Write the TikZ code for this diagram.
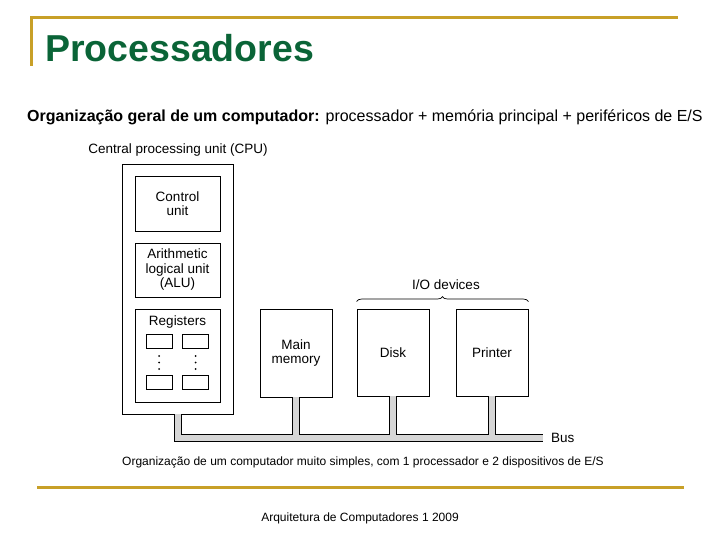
\documentclass[tikz,border=0pt]{standalone}
\usepackage{fontspec}
\setmainfont{Liberation Sans}
\usetikzlibrary{positioning,decorations.pathreplacing}
\definecolor{rulegold}{RGB}{200,160,40}
\definecolor{titlegreen}{RGB}{10,100,55}
\definecolor{busgray}{RGB}{214,214,214}
\tikzset{
  unit box/.style={draw,line width=0.9pt,align=center,inner sep=0pt,
    font=\fontsize{13.5}{14.5}\selectfont},
  reg box/.style={draw,line width=0.9pt,minimum width=26pt,
    minimum height=14pt,inner sep=0pt},
  diagram label/.style={font=\fontsize{13.5}{15}\selectfont,inner sep=0pt},
  bus outer/.style={line width=8pt,black},
  bus inner/.style={line width=6pt,busgray},
  gold rule/.style={line width=3pt,rulegold},
  slide text/.style={font=\fontsize{12}{14}\selectfont,inner sep=0pt},
}

\begin{document}
\begin{tikzpicture}[x=1pt,y=-1pt]
  \useasboundingbox (0,0) rectangle (720,540);

  % Slide frame and heading
  \draw[gold rule] (31,66) -- (31,18) -- (678,18);
  \draw[gold rule] (37,487) -- (684,487);
  \node[anchor=base west,inner sep=0pt,text=titlegreen,
    font=\fontsize{37.5}{40}\selectfont\bfseries] (title) at (45,62) {Processadores};
  \node[anchor=base west,inner sep=0pt,font=\fontsize{16}{18}\selectfont]
    (sub) at (27,122) {\textbf{Organização geral de um computador:} processador
    + memória principal + periféricos de E/S};

  % CPU
  \node[diagram label] (cpulbl) at (178,150) {Central processing unit (CPU)};
  \node[unit box,minimum width=111pt,minimum height=250pt] (cpu) at (177.5,289) {};
  \node[unit box,minimum width=85pt,minimum height=55pt] (ctrl) at (177.5,203.5)
    {Control\\unit};
  \node[unit box,minimum width=85pt,minimum height=54pt] (alu) at (177.5,270)
    {Arithmetic\\logical unit\\(ALU)};
  \node[unit box,minimum width=85pt,minimum height=93pt] (regs) at (177.5,355.5) {};
  \node[diagram label] (reglbl) at (177.5,322) {Registers};
  \node[reg box] (r1) at (159,341) {};
  \node[reg box] (r2) at (195.5,341) {};
  \node[reg box] (r3) at (159,382.5) {};
  \node[reg box] (r4) at (195.5,382.5) {};
  \foreach \x in {159,195.5}
    \foreach \y in {356,362.5,369}
      \fill (\x,\y) circle (1pt);

  % Memory and I/O devices
  \node[unit box,minimum width=72pt,minimum height=88pt] (mem) at (296,353)
    {Main\\memory};
  \node[unit box,minimum width=72pt,minimum height=87pt] (disk) at (393,352.5)
    {Disk};
  \node[unit box,minimum width=72pt,minimum height=87pt] (printer) at (492,352.5)
    {Printer};
  \draw[decorate,decoration={brace,amplitude=5pt},line width=0.7pt]
    (disk.north west) ++(0,-7) coordinate (braceL)
    (printer.north east) ++(0,-7) coordinate (braceR)
    (braceL) -- (braceR);
  \node[diagram label] (iolbl) at (446,285) {I/O devices};

  % Bus
  \coordinate (busR) at (543,437.5);
  \foreach \s in {bus outer,bus inner} {
    \draw[\s] (cpu.south) |- (busR);
    \draw[\s] (mem.south) -- (mem.south |- busR);
    \draw[\s] (disk.south) -- (disk.south |- busR);
    \draw[\s] (printer.south) -- (printer.south |- busR);
  }
  \node[diagram label,anchor=west] (buslbl) at (551,438) {Bus};

  % Caption and footer
  \node[slide text,anchor=base] (caption) at (363,465) {Organização de um
    computador muito simples, com 1 processador e 2 dispositivos de E/S};
  \node[slide text,anchor=base] (footer) at (360,521)
    {Arquitetura de Computadores 1 2009};
\end{tikzpicture}
\end{document}
